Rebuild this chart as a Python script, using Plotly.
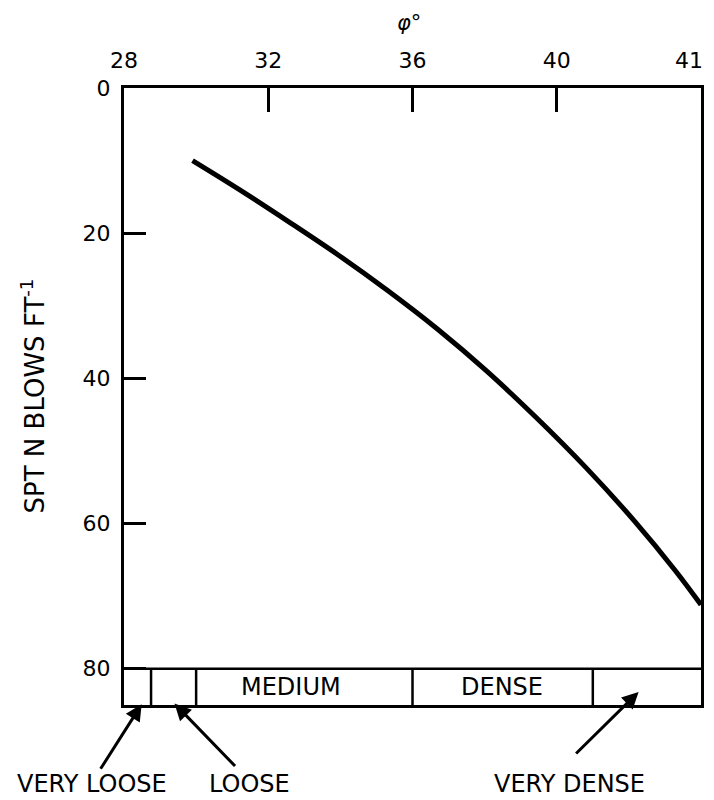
import plotly.graph_objects as go

# Data (phi in degrees, SPT N in blows/ft)
phi = [29.9, 31.2, 32.56, 33.94, 35.31, 36.69, 38.06, 39.43, 40.81, 42.18, 43.29, 44.0]
spt_n = [10.0, 14.0, 18.4, 23.0, 27.9, 33.2, 39.0, 45.4, 52.3, 59.8, 66.5, 71.2]

x_tickvals = [28, 32, 36, 40]
x_ticktext = ["28", "32", "36", "40"]
last_x_label = "41"
y_tickvals = [0, 20, 40, 60, 80]

# Density band boundaries (phi) and labels
band_bounds = [28.75, 30, 36, 41]
band_top = 80
band_bottom = 85
band_labels = ["MEDIUM", "DENSE"]
band_label_x = [32.63, 38.48]

bottom_labels = ["VERY LOOSE", "LOOSE", "VERY DENSE"]
bottom_label_x = [-0.055, 0.217, 0.772]

FONT = "DejaVu Sans, Liberation Sans, Arial, sans-serif"

fig = go.Figure()
fig.add_trace(go.Scatter(
    x=phi, y=spt_n, mode="lines",
    line=dict(color="black", width=5, shape="spline", smoothing=1.0),
    hoverinfo="skip", showlegend=False,
))

shapes = [dict(type="line", xref="x", yref="y", x0=28, x1=44, y0=band_top, y1=band_top,
               line=dict(color="black", width=2.5))]
for b in band_bounds:
    shapes.append(dict(type="line", xref="x", yref="y", x0=b, x1=b, y0=band_top, y1=band_bottom,
                       line=dict(color="black", width=2.5)))

annotations = []
for lab, lx in zip(band_labels, band_label_x):
    annotations.append(dict(x=lx, y=82.5, xref="x", yref="y", text=lab, showarrow=False,
                            xanchor="center", yanchor="middle",
                            font=dict(family=FONT, size=24, color="black")))

# arrows pointing to the band
arrows = [
    # head phi, head N, ax, ay (pixel offset of tail)
    (28.49, 84.9, -42, 66),
    (29.40, 84.8, 62, 64),
    (42.27, 83.2, -64, 63),
]
for hx, hy, ax, ay in arrows:
    annotations.append(dict(x=hx, y=hy, xref="x", yref="y", ax=ax, ay=ay, axref="pixel", ayref="pixel",
                            text="", showarrow=True, arrowhead=2, arrowsize=1.1, arrowwidth=3,
                            arrowcolor="black", standoff=0))

for txt, tx in zip(bottom_labels, bottom_label_x):
    annotations.append(dict(x=tx, y=-0.128, xref="paper", yref="paper", text=txt, showarrow=False,
                            xanchor="center", yanchor="middle",
                            font=dict(family=FONT, size=24, color="black")))

annotations.append(dict(x=44, y=1.0, xref="x", yref="paper", xanchor="right", yanchor="middle",
                        xshift=4, yshift=28, text=last_x_label, showarrow=False,
                        font=dict(family=FONT, size=22, color="black")))
annotations.append(dict(x=35.9, y=1.0, xref="x", yref="paper", xanchor="center", yanchor="middle",
                        yshift=65, text="<i>φ</i>°", showarrow=False,
                        font=dict(family=FONT, size=21, color="black")))
annotations.append(dict(x=0, y=0.5, xref="paper", yref="paper", xanchor="center", yanchor="middle",
                        xshift=-91, textangle=-90,
                        text="SPT N BLOWS FT<sup>-1</sup>", showarrow=False,
                        font=dict(family=FONT, size=26, color="black")))

fig.update_layout(
    width=706, height=792,
    margin=dict(l=116, r=10, t=80, b=95),
    paper_bgcolor="white", plot_bgcolor="white",
    shapes=shapes, annotations=annotations,
    font=dict(family=FONT, color="black"),
    xaxis=dict(range=[28, 44], side="top", tickvals=x_tickvals, ticktext=x_ticktext,
               ticks="inside", ticklen=24, tickwidth=2.5, tickcolor="black",
               ticklabelstandoff=8,
               showline=True, linewidth=3, linecolor="black", mirror=True,
               showgrid=False, zeroline=False, tickfont=dict(family=FONT, size=22)),
    yaxis=dict(range=[band_bottom, 0], tickvals=y_tickvals,
               ticks="inside", ticklen=22, tickwidth=2.5, tickcolor="black",
               ticklabelstandoff=6,
               showline=True, linewidth=3, linecolor="black", mirror=True,
               showgrid=False, zeroline=False, tickfont=dict(family=FONT, size=22)),
)

fig.write_html("out.html")
